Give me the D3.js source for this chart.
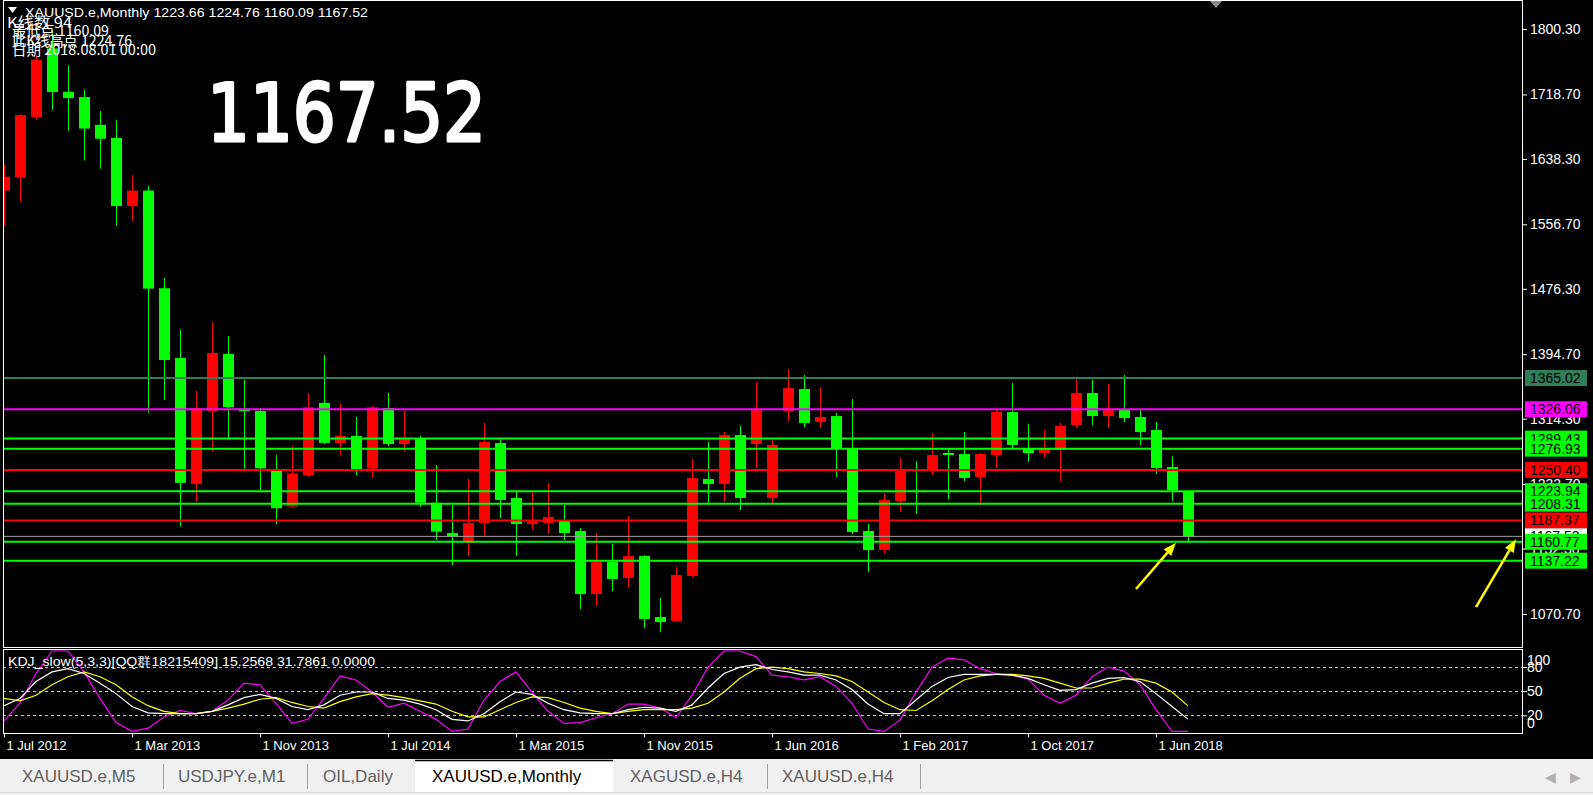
<!DOCTYPE html>
<html><head><meta charset="utf-8">
<script src="https://cdn.jsdelivr.net/npm/d3@7/dist/d3.min.js"></script>
<style>html,body{margin:0;padding:0;background:#000;overflow:hidden}</style>
</head><body><svg id="c" width="1593" height="795"></svg>
<script>
// ---------- DATA ----------
const openP  = [1598.8,1615.0,1690.5,1776.0,1722.0,1715.4,1680.7,1664.4,1579.4,1598.8,1477.0,1390.0,1232.7,1323.9,1395.1,1326.9,1323.9,1251.0,1204.8,1243.4,1334.0,1284.1,1292.8,1252.0,1327.6,1282.7,1289.8,1209.5,1171.7,1159.6,1184.2,1284.0,1215.4,1182.9,1184.2,1187.9,1174.2,1095.6,1135.5,1115.6,1143.0,1066.9,1061.9,1118.1,1239.1,1232.8,1293.9,1282.7,1215.4,1323.9,1351.3,1310.1,1317.6,1277.7,1174.2,1150.5,1211.6,1251.0,1249.0,1271.5,1270.2,1241.6,1269.0,1322.6,1277.7,1271.5,1275.2,1306.4,1346.3,1317.6,1326.4,1316.4,1300.2,1254.0,1223.66];
const highP  = [1631.3,1693.9,1767.9,1799.0,1755.0,1724.5,1698.0,1686.8,1618.1,1604.5,1489.7,1425.1,1348.8,1434.4,1417.4,1362.5,1327.6,1269.0,1280.2,1346.3,1393.7,1332.6,1316.4,1330.1,1346.3,1323.9,1292.7,1256.5,1208.7,1239.1,1308.9,1287.7,1224.1,1224.1,1234.1,1206.6,1177.9,1171.7,1158.0,1192.9,1144.3,1090.6,1129.3,1264.0,1285.2,1297.7,1305.2,1360.0,1288.9,1376.3,1368.8,1353.8,1321.4,1338.8,1182.9,1221.6,1265.2,1261.5,1296.4,1275.2,1297.7,1271.5,1325.1,1358.8,1307.7,1300.2,1308.9,1365.0,1362.5,1357.5,1368.8,1326.4,1310.1,1267.7,1224.76];
const lowP   = [1555.0,1584.5,1686.8,1699.3,1673.6,1636.4,1626.2,1555.0,1561.1,1321.7,1337.6,1179.8,1210.4,1273.0,1290.2,1252.0,1225.6,1182.9,1202.9,1241.9,1282.7,1269.0,1243.4,1240.8,1280.2,1273.1,1204.5,1163.0,1131.8,1143.0,1168.3,1190.4,1143.0,1175.4,1170.5,1163.0,1076.9,1080.7,1099.4,1104.4,1053.3,1048.2,1061.0,1115.6,1209.5,1210.4,1200.4,1252.8,1206.6,1311.4,1303.9,1302.7,1241.6,1170.5,1123.1,1145.5,1197.9,1195.4,1244.0,1214.1,1236.5,1205.4,1252.8,1277.7,1260.3,1265.2,1236.5,1302.7,1306.4,1302.7,1310.1,1281.5,1245.3,1211.6,1160.09];
const closeP = [1616.1,1692.9,1762.0,1721.7,1714.2,1676.1,1663.4,1579.5,1598.8,1476.5,1387.5,1234.2,1327.4,1396.2,1328.5,1323.4,1252.5,1202.6,1245.9,1328.5,1284.1,1292.8,1249.5,1328.5,1282.7,1289.8,1209.5,1173.3,1167.1,1184.2,1285.2,1212.9,1182.9,1185.8,1191.7,1171.7,1095.6,1135.5,1114.3,1143.0,1064.5,1060.6,1119.3,1240.3,1232.8,1293.9,1215.4,1325.1,1281.5,1352.6,1308.9,1316.4,1277.7,1173.0,1150.5,1212.9,1251.5,1249.5,1269.0,1269.0,1240.3,1270.2,1322.6,1281.5,1271.5,1276.5,1305.2,1346.3,1317.6,1325.1,1315.1,1297.7,1252.8,1225.3,1167.52];

const kVals = [32,41,62,74,78,72,60,47,31,23,22,22,22,25,33,42,46,41,31,27,33,45,49,49,41,39,34,27,15,13,22,37,49,46,35,27,23,22,22,27,30,29,25,33,54,72,80,83,77,74,70,70,64,52,34,22,22,39,56,67,71,71,71,70,66,58,51,52,60,66,67,62,47,31,15.2568];
const dVals = [41,38,45,58,68,74,68,58,43,32,25,22,22,25,29,34,40,42,36,31,29,37,43,47,45,42,38,34,25,18,18,27,36,43,42,36,29,25,22,25,27,27,27,29,35,49,66,78,80,78,74,72,69,62,49,36,27,26,38,52,64,69,71,71,69,66,60,54,54,60,65,65,60,49,31.7861];
const jVals = [13,35,72,100,100,74,41,11,0,4,18,26,22,25,39,60,58,35,10,15,41,69,64,49,30,35,25,15,0,3,39,62,74,49,25,10,11,17,22,34,34,29,17,45,80,100,100,93,70,68,64,68,56,35,3,0,14,49,80,91,89,78,72,70,65,45,35,45,68,80,75,58,27,0,0];

const dateLabels = ["1 Jul 2012","1 Mar 2013","1 Nov 2013","1 Jul 2014","1 Mar 2015","1 Nov 2015","1 Jun 2016","1 Feb 2017","1 Oct 2017","1 Jun 2018"];
const dateLabelBars = [0,8,16,24,32,40,48,56,64,72];
const priceTicks = [1800.30,1718.70,1638.30,1556.70,1476.30,1394.70,1314.30,1232.70,1152.30,1070.70];
const levelValues = [1365.02,1326.06,1289.43,1276.93,1250.40,1223.94,1208.31,1187.37,1167.52,1160.77,1137.22];
const levelKinds  = ["teal","magenta","green","green","red","green","green","red","price","green","green"];
const kdjLevels = [80,50,20];
const kdjAxisLabels = [100,80,50,20,0];
const tabNames = ["XAUUSD.e,M5","USDJPY.e,M1","OIL,Daily","XAUUSD.e,Monthly","XAGUSD.e,H4","XAUUSD.e,H4"];
const activeTab = 3;
const infoTexts = ["K线数   94","最低点 1160.09","此K线高点 1224.76","日期 2018.08.01 00:00"];
// annotation arrows in [bar, price] units: tail -> tip
const arrows = [[[70.75,1101.9],[73.25,1159.5]],[[92.0,1079.4],[94.5,1164.0]]];
const shiftBar = 75.75;

// ---------- STYLE ----------
const C = {bull:"#ff0000",bear:"#00ff00",teal:"#2f7d59",magenta:"#ff00ff",green:"#00ff00",red:"#ff0000",price:"#a0a0a0",K:"#ffffff",D:"#ffff00",J:"#ff00ff"};
const FONT = "'Liberation Sans', Arial, sans-serif";

// ---------- LAYOUT ----------
const L = 3, R = 1523, mainTop = 0, mainBot = 647.5, kTop = 649.5, kBot = 733.5;
const svg = d3.select("#c");
svg.append("rect").attr("width",1593).attr("height",795).attr("fill","#000");

const x = d3.scaleLinear().domain([0,1]).range([4,20]);
const y = d3.scaleLinear().domain([1070.70,1800.30]).range([614,29]);
const yk = d3.scaleLinear().domain([0,100]).range([731.4,651]);

const defs = svg.append("defs");
defs.append("clipPath").attr("id","cm").append("rect").attr("x",L+0.5).attr("y",mainTop).attr("width",R-L-0.5).attr("height",mainBot-mainTop);
defs.append("clipPath").attr("id","ck").append("rect").attr("x",L+0.5).attr("y",kTop+0.5).attr("width",R-L-0.5).attr("height",kBot-kTop-1);

// ---------- CANDLES ----------
const bars = openP.map((o,i)=>({i,o,h:highP[i],l:lowP[i],c:closeP[i]}));
const gm = svg.append("g").attr("clip-path","url(#cm)");
gm.selectAll("line.w").data(bars).join("line")
  .attr("x1",d=>Math.round(x(d.i))+0.5).attr("x2",d=>Math.round(x(d.i))+0.5)
  .attr("y1",d=>y(d.h)).attr("y2",d=>y(d.l))
  .attr("stroke",d=>d.c>=d.o?C.bull:C.bear).attr("stroke-width",1);
gm.selectAll("rect.b").data(bars).join("rect")
  .attr("x",d=>Math.round(x(d.i))-5).attr("width",11)
  .attr("y",d=>y(Math.max(d.o,d.c)))
  .attr("height",d=>Math.max(1,y(Math.min(d.o,d.c))-y(Math.max(d.o,d.c))))
  .attr("fill",d=>d.c>=d.o?C.bull:C.bear);

// ---------- LEVEL LINES ----------
const levels = levelValues.map((v,i)=>({v,k:levelKinds[i]}));
gm.selectAll("line.lv").data(levels).join("line")
  .attr("x1",L).attr("x2",R).attr("y1",d=>y(d.v)).attr("y2",d=>y(d.v))
  .attr("stroke",d=>C[d.k]).attr("stroke-width",d=>d.k==="price"?1:2);

// arrows
arrows.forEach(a=>{
  const x1=x(a[0][0]),y1=y(a[0][1]),x2=x(a[1][0]),y2=y(a[1][1]);
  const ang=Math.atan2(y2-y1,x2-x1), hl=13, hw=5;
  const bx=x2-hl*Math.cos(ang), by=y2-hl*Math.sin(ang);
  gm.append("line").attr("x1",x1).attr("y1",y1).attr("x2",bx).attr("y2",by).attr("stroke","#ffff00").attr("stroke-width",2.5);
  const px=-Math.sin(ang), py=Math.cos(ang);
  gm.append("polygon").attr("points",[[x2,y2],[bx+px*hw,by+py*hw],[bx-px*hw,by-py*hw]].map(p=>p.join(",")).join(" ")).attr("fill","#ffff00");
});

// shift marker
const sx = x(shiftBar);
svg.append("polygon").attr("points",`${sx-7},0 ${sx+7},0 ${sx},8`).attr("fill","#8a8a8a");

// ---------- TEXTS (main) ----------
svg.append("polygon").attr("points","8,7 17,7 12.5,13").attr("fill","#fff");
svg.append("text").attr("x",25).attr("y",16.5).attr("fill","#fff").attr("font-family",FONT).attr("font-size",13)
  .attr("textLength",343).attr("lengthAdjust","spacingAndGlyphs")
  .text("XAUUSD.e,Monthly  1223.66 1224.76 1160.09 1167.52");
const CJK = "'Noto Sans CJK SC', sans-serif";
const infoPos = [[7,28,65],[12,36,97],[12,46,120],[12,55,144]];
infoTexts.forEach((t,i)=>svg.append("text").attr("x",infoPos[i][0]).attr("y",infoPos[i][1]).attr("fill","#fff")
  .attr("font-family",CJK).attr("font-size",14.5).attr("textLength",infoPos[i][2]).attr("lengthAdjust","spacingAndGlyphs").text(t));
svg.append("text").attr("x",207).attr("y",141).attr("fill","#fff").attr("stroke","#fff").attr("stroke-width",3).attr("stroke-linejoin","round")
  .attr("font-family","'Comic Sans MS','DejaVu Sans',sans-serif")
  .attr("font-size",80).attr("textLength",279).attr("lengthAdjust","spacingAndGlyphs").text("1167.52");

// ---------- RIGHT PRICE AXIS ----------
const ax = svg.append("g").attr("transform",`translate(${R},0)`)
  .call(d3.axisRight(y).tickValues(priceTicks).tickSize(4).tickPadding(3).tickFormat(d=>d.toFixed(2)));
ax.select(".domain").remove();
ax.selectAll("line").attr("stroke","#fff");
ax.selectAll("text").attr("fill","#fff").attr("font-family",FONT).attr("font-size",14);

// level labels
const lb = svg.append("g");
levels.forEach(d=>{
  const yy=y(d.v);
  lb.append("rect").attr("x",1525).attr("y",yy-8).attr("width",62).attr("height",16)
    .attr("fill",d.k==="price"?"#ffffff":C[d.k]);
  lb.append("text").attr("x",1530).attr("y",yy+5).attr("fill","#000").attr("font-family",FONT).attr("font-size",14).text(d.v.toFixed(2));
});

// ---------- KDJ PANEL ----------
const gk = svg.append("g").attr("clip-path","url(#ck)");
gk.selectAll("line.lv").data(kdjLevels).join("line")
  .attr("x1",L).attr("x2",R).attr("y1",d=>Math.round(yk(d))+0.5).attr("y2",d=>Math.round(yk(d))+0.5)
  .attr("stroke","#c8c8c8").attr("stroke-dasharray","3,3").attr("stroke-width",1);
const mk = arr => d3.line().x((v,i)=>x(i)).y(v=>yk(v))(arr);
[[jVals,C.J],[dVals,C.D],[kVals,C.K]].forEach(s=>{
  gk.append("path").attr("d",mk(s[0])).attr("fill","none").attr("stroke",s[1]).attr("stroke-width",1.2);
});
svg.append("text").attr("x",8).attr("y",666).attr("fill","#fff").attr("font-family",FONT).attr("font-size",13)
  .attr("textLength",367).attr("lengthAdjust","spacingAndGlyphs")
  .text("KDJ_slow(5,3,3)[QQ群18215409] 15.2568 31.7861 0.0000");
const kax = svg.append("g").attr("transform",`translate(${R},0)`)
  .call(d3.axisRight(yk).tickValues(kdjLevels).tickSize(4).tickFormat(""));
kax.select(".domain").remove();
kax.selectAll("line").attr("stroke","#fff");
kdjAxisLabels.forEach(v=>{
  const off = v===100?14:(v===0?-3:5);
  svg.append("text").attr("x",1527).attr("y",yk(v)+off).attr("fill","#fff").attr("font-family",FONT).attr("font-size",14).text(v);
});

// ---------- BORDERS ----------
svg.append("rect").attr("x",L+0.5).attr("y",0.5).attr("width",R-L-1).attr("height",mainBot-0.5).attr("fill","none").attr("stroke","#fff");
svg.append("rect").attr("x",L+0.5).attr("y",kTop).attr("width",R-L-1).attr("height",kBot-kTop).attr("fill","none").attr("stroke","#fff");

// ---------- DATE AXIS ----------
const xa = svg.append("g").attr("transform",`translate(0,${kBot})`)
  .call(d3.axisBottom(x).tickValues(dateLabelBars).tickSize(4).tickPadding(3).tickFormat((d,i)=>dateLabels[i]));
xa.select(".domain").remove();
xa.selectAll("line").attr("stroke","#fff");
xa.selectAll("text").attr("fill","#fff").attr("font-family",FONT).attr("font-size",13).attr("text-anchor","start").attr("x",2);

// ---------- TABS ----------
const tabY = 759;
svg.append("rect").attr("x",0).attr("y",tabY).attr("width",1593).attr("height",795-tabY).attr("fill","#f0f0f0");
svg.append("line").attr("x1",0).attr("x2",1593).attr("y1",792.5).attr("y2",792.5).attr("stroke","#d8d8d8");
const tabX = [0,163,307,415,614,767,920];
const tabTextX = [22,178,323,432,630,782];
tabNames.forEach((t,i)=>{
  if(i===activeTab){
    svg.append("rect").attr("x",tabX[i]).attr("y",tabY+1).attr("width",tabX[i+1]-tabX[i]-1).attr("height",32).attr("fill","#fff");
    svg.append("line").attr("x1",tabX[i]).attr("x2",tabX[i+1]-1).attr("y1",tabY+1.5).attr("y2",tabY+1.5).attr("stroke","#000").attr("stroke-width",1.5);
  }
  svg.append("text").attr("x",tabTextX[i]).attr("y",782).attr("fill",i===activeTab?"#000":"#606060")
    .attr("font-family",FONT).attr("font-size",17).text(t);
});
[163,307,767,920].forEach(sx2=>svg.append("line").attr("x1",sx2+0.5).attr("x2",sx2+0.5).attr("y1",764).attr("y2",789).attr("stroke","#a0a0a0"));
svg.append("text").attr("x",1545).attr("y",782).attr("fill","#b0b0b0").attr("font-family",FONT).attr("font-size",14).text("◀");
svg.append("text").attr("x",1570).attr("y",782).attr("fill","#b0b0b0").attr("font-family",FONT).attr("font-size",14).text("▶");
</script></body></html>
